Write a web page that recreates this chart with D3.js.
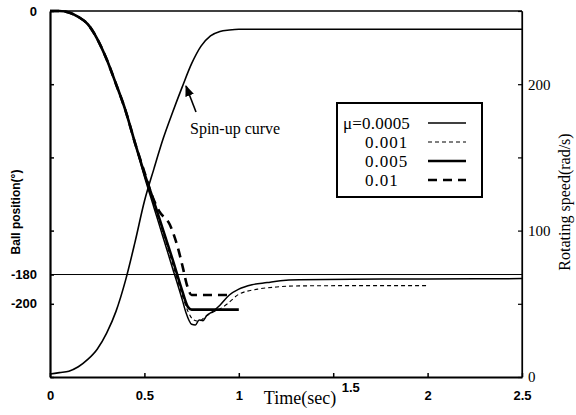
<!DOCTYPE html>
<html>
<head>
<meta charset="utf-8">
<script src="https://cdn.jsdelivr.net/npm/d3@7"></script>
<style>
  body { margin: 0; background: #fff; }
  svg { display: block; }
</style>
</head>
<body>
<div id="chart"></div>
<script>
// spin-up curve (right axis, rad/s)
const spinTime  = [0, 0.05, 0.1, 0.15, 0.2, 0.25, 0.3, 0.35, 0.4, 0.45, 0.5, 0.55, 0.6, 0.65, 0.7, 0.75, 0.8, 0.85, 0.9, 0.95, 1.0, 1.5, 2.0, 2.5];
const spinSpeed = [2, 3, 4, 7, 12, 19, 30, 45, 66, 92, 120, 142, 163, 181, 198, 214, 226, 233, 236, 237, 237.5, 237.5, 237.5, 237.5];

// ball position (left axis, degrees), one pair of arrays per friction value
const time0005 = [0, 0.05, 0.1, 0.15, 0.2, 0.25, 0.3, 0.35, 0.4, 0.45, 0.5, 0.55, 0.6, 0.65, 0.7, 0.72, 0.75, 0.77, 0.79, 0.81, 0.83, 0.86, 0.9, 0.95, 1.0, 1.07, 1.15, 1.22, 1.32, 1.6, 2.0, 2.5];
const pos0005  = [0, 0, -1, -4, -9, -19, -33, -50, -68, -90, -113, -134, -155, -176, -197, -206, -214, -214.5, -211, -211.5, -208, -205.5, -201, -194, -190, -187, -185.5, -184.2, -183.5, -183.2, -183, -182.8];

const time001 = [0, 0.05, 0.1, 0.15, 0.2, 0.25, 0.3, 0.35, 0.4, 0.45, 0.5, 0.55, 0.6, 0.65, 0.7, 0.73, 0.76, 0.79, 0.82, 0.86, 0.9, 0.94, 1.0, 1.1, 1.2, 1.3, 1.6, 2.0];
const pos001  = [0, 0, -1, -4, -9, -19, -33, -50, -68, -90, -112, -132, -152, -173, -194, -205, -211, -212, -209, -206, -203.5, -200, -193.5, -190, -188.5, -187.8, -187.6, -187.6];

const time005 = [0, 0.05, 0.1, 0.15, 0.2, 0.25, 0.3, 0.35, 0.4, 0.45, 0.5, 0.55, 0.6, 0.65, 0.7, 0.73, 0.75, 0.8, 0.9, 1.0];
const pos005  = [0, 0, -1, -4, -9, -19, -33, -50, -68, -90, -111, -130, -150, -170, -191, -202, -204, -204, -204, -204];

const time01 = [0, 0.05, 0.1, 0.15, 0.2, 0.25, 0.3, 0.35, 0.4, 0.45, 0.5, 0.54, 0.58, 0.635, 0.68, 0.705, 0.725, 0.75, 0.85, 0.95];
const pos01  = [0, 0, -1, -4, -9, -19, -33, -50, -68, -90, -110, -126, -137, -146, -163, -176, -187, -194, -194, -194];

const refAngle = -180;

const legendLabels = ["\u03bc=0.0005", "0.001", "0.005", "0.01"];

const xTicks = [0, 0.5, 1, 1.5, 2, 2.5];
const leftTicks = [0, -50, -100, -150, -180, -200, -250];
const leftLabels = [0, -180, -200];
const rightTicks = [0, 50, 100, 150, 200, 250];
const rightLabels = [0, 100, 200];

const width = 576, height = 415;
const margin = {top: 11, right: 54, bottom: 38, left: 50};
const plotW = width - margin.left - margin.right;
const plotH = height - margin.top - margin.bottom;

const svg = d3.select('#chart')
  .append('svg')
    .attr('width', width)
    .attr('height', height);

const g = svg.append('g')
  .attr('transform', 'translate(' + margin.left + ',' + margin.top + ')');

const x = d3.scaleLinear().domain([0, 2.5]).range([0, plotW]);
const yL = d3.scaleLinear().domain([0, -250]).range([0, plotH]);
const yR = d3.scaleLinear().domain([0, 250]).range([plotH, 0]);

// frame
g.append('line').attr('x1', 0).attr('x2', plotW).attr('y1', 0).attr('y2', 0)
  .attr('stroke', '#000').attr('stroke-width', 1.5);
g.append('line').attr('x1', plotW).attr('x2', plotW).attr('y1', 0).attr('y2', plotH)
  .attr('stroke', '#000').attr('stroke-width', 1.2);

// bottom axis
const xAxis = g.append('g')
  .attr('transform', 'translate(0,' + plotH + ')')
  .call(d3.axisBottom(x).tickValues(xTicks).tickSizeInner(-4).tickSizeOuter(0)
    .tickFormat(d => String(d)));
xAxis.select('.domain').attr('stroke-width', 2);
xAxis.selectAll('.tick line').attr('stroke-width', 1.5);
xAxis.selectAll('.tick text')
  .attr('font-family', '"Liberation Sans", Arial, sans-serif')
  .attr('font-weight', 'bold')
  .attr('font-size', 13)
  .attr('y', 14)
  .attr('dy', '0.71em')
  .filter(d => d === 1.5)
    .attr('x', 17)
    .attr('y', 6);

// left axis
const leftAxis = g.append('g')
  .call(d3.axisLeft(yL).tickValues(leftTicks).tickSizeInner(-4).tickSizeOuter(0)
    .tickFormat(d => leftLabels.includes(d) ? String(d) : ''));
leftAxis.select('.domain').attr('stroke-width', 2.2);
leftAxis.selectAll('.tick line').attr('stroke-width', 1.5);
leftAxis.selectAll('.tick text')
  .attr('font-family', '"Liberation Sans", Arial, sans-serif')
  .attr('font-weight', 'bold')
  .attr('font-size', 13)
  .attr('x', -13);

// right axis
const rightAxis = g.append('g')
  .attr('transform', 'translate(' + plotW + ',0)')
  .call(d3.axisRight(yR).tickValues(rightTicks).tickSizeInner(-4).tickSizeOuter(0)
    .tickFormat(d => rightLabels.includes(d) ? String(d) : ''));
rightAxis.select('.domain').attr('stroke-width', 1.2);
rightAxis.selectAll('.tick line').attr('stroke-width', 1.2);
rightAxis.selectAll('.tick text')
  .attr('font-family', '"Liberation Serif", "Times New Roman", serif')
  .attr('font-size', 15)
  .attr('x', 6);

// -180 reference line
g.append('line')
  .attr('x1', 0).attr('x2', plotW)
  .attr('y1', yL(refAngle)).attr('y2', yL(refAngle))
  .attr('stroke', '#000').attr('stroke-width', 1);

// curves
const lineL = d3.line().x(d => x(d[0])).y(d => yL(d[1])).curve(d3.curveMonotoneX);
const lineR = d3.line().x(d => x(d[0])).y(d => yR(d[1])).curve(d3.curveMonotoneX);

g.append('path')
  .datum(d3.zip(spinTime, spinSpeed))
  .attr('d', lineR)
  .attr('fill', 'none').attr('stroke', '#000').attr('stroke-width', 1.6);

const series = [
  {t: time0005, p: pos0005, w: 1.5, dash: null},
  {t: time001,  p: pos001,  w: 1.1, dash: '4,3'},
  {t: time005,  p: pos005,  w: 2.6, dash: null},
  {t: time01,   p: pos01,   w: 2.6, dash: '9,6'}
];

series.forEach(s => {
  g.append('path')
    .datum(d3.zip(s.t, s.p))
    .attr('d', lineL)
    .attr('fill', 'none')
    .attr('stroke', '#000')
    .attr('stroke-width', s.w)
    .attr('stroke-dasharray', s.dash);
});

// legend
const legend = svg.append('g').attr('transform', 'translate(337,103)');
legend.append('rect')
  .attr('width', 145).attr('height', 94)
  .attr('fill', '#fff').attr('stroke', '#000').attr('stroke-width', 2);
legendLabels.forEach((lab, i) => {
  const yy = 20 + i * 19;
  legend.append('text')
    .attr('x', i === 0 ? 6 : 28)
    .attr('y', yy)
    .attr('dy', '0.35em')
    .attr('font-family', '"Liberation Serif", "Times New Roman", serif')
    .attr('font-size', 17)
    .attr('letter-spacing', i === 0 ? 0.2 : 1)
    .text(lab);
  legend.append('line')
    .attr('x1', 91).attr('x2', 129)
    .attr('y1', yy).attr('y2', yy)
    .attr('stroke', '#000')
    .attr('stroke-width', series[i].w)
    .attr('stroke-dasharray', series[i].dash);
});

// annotation
svg.append('defs').append('marker')
  .attr('id', 'arrow')
  .attr('viewBox', '0 0 10 10')
  .attr('refX', 9).attr('refY', 5)
  .attr('markerWidth', 7).attr('markerHeight', 7)
  .attr('orient', 'auto')
  .append('path').attr('d', 'M0,1 L10,5 L0,9 Z').attr('fill', '#000');

svg.append('line')
  .attr('x1', 196).attr('y1', 112).attr('x2', 186).attr('y2', 86)
  .attr('stroke', '#000').attr('stroke-width', 1.6)
  .attr('marker-end', 'url(#arrow)');

svg.append('text')
  .attr('x', 190).attr('y', 134)
  .attr('font-family', '"Liberation Serif", "Times New Roman", serif')
  .attr('font-size', 16)
  .text('Spin-up curve');

// axis titles
svg.append('text')
  .attr('x', 300).attr('y', 404)
  .attr('text-anchor', 'middle')
  .attr('font-family', '"Liberation Serif", "Times New Roman", serif')
  .attr('font-size', 18)
  .text('Time(sec)');

svg.append('text')
  .attr('transform', 'translate(20,212) rotate(-90)')
  .attr('text-anchor', 'middle')
  .attr('font-family', '"Liberation Sans", Arial, sans-serif')
  .attr('font-weight', 'bold')
  .attr('font-size', 12)
  .text('Ball position(\u00b0)');

svg.append('text')
  .attr('transform', 'translate(570,202) rotate(-90)')
  .attr('text-anchor', 'middle')
  .attr('font-family', '"Liberation Serif", "Times New Roman", serif')
  .attr('font-size', 16)
  .text('Rotating speed(rad/s)');
</script>
</body>
</html>
